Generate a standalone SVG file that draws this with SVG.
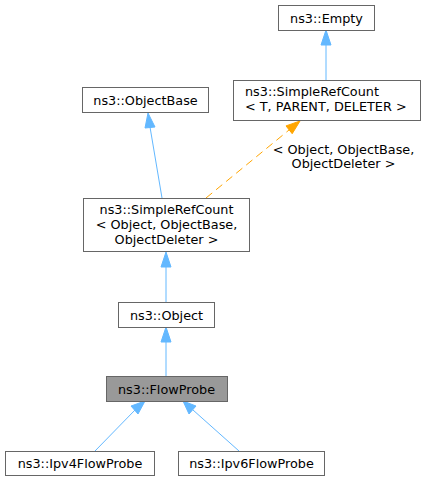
<svg xmlns="http://www.w3.org/2000/svg" width="425" height="481" viewBox="0 0 425 481">
<style>
.box{fill:#fff;stroke:#666;stroke-width:1}
.cur{fill:#999;stroke:#666;stroke-width:1}
text{font-family:"DejaVu Sans",sans-serif;font-size:12.8px;fill:#000}
.m{text-anchor:middle}
.e{fill:none;stroke:#63b8ff;stroke-width:1}
.ah{fill:#63b8ff;stroke:#63b8ff}
.d{fill:none;stroke:#ffa500;stroke-dasharray:8,5}
.ao{fill:#ffa500;stroke:#ffa500}
</style>
<rect width="425" height="481" fill="#fff"/>
<g id="connectors">
<path class="e" d="M326,45 V80"/>
<polygon class="ah" points="321,45 326,30 331,45"/>
<path class="e" d="M150,127 L162,198"/>
<polygon class="ah" points="145,128 148,113 155,127"/>
<path class="d" d="M206,198 L289,130"/>
<polygon class="ao" points="286,125.9 300,121 292.2,133.7"/>
<text class="m" x="343.5" y="154">&lt; Object, ObjectBase,</text>
<text class="m" x="343.5" y="168">ObjectDeleter &gt;</text>
<path class="e" d="M166,267 V302"/>
<polygon class="ah" points="161,267 166,252 171,267"/>
<path class="e" d="M166,342 V376"/>
<polygon class="ah" points="161,342 166,327 171,342"/>
<path class="e" d="M95,451 L135,410"/>
<polygon class="ah" points="131,406 145,401 138,414"/>
<path class="e" d="M239,451 L193,410"/>
<polygon class="ah" points="189,414 183,401 196,406"/>
</g>
<g id="Empty">
<rect class="box" x="278.5" y="5.5" width="96" height="25"/>
<text class="m" x="326.5" y="22.5">ns3::Empty</text>
</g>
<g id="SimpleRefCountT">
<rect class="box" x="233.5" y="80.5" width="187" height="40"/>
<text x="245" y="96">ns3::SimpleRefCount</text>
<text x="245" y="111">&lt; T, PARENT, DELETER &gt;</text>
</g>
<g id="ObjectBase">
<rect class="box" x="82.5" y="87.5" width="126" height="25"/>
<text class="m" x="145.5" y="104.5">ns3::ObjectBase</text>
</g>
<g id="SimpleRefCountObject">
<rect class="box" x="83.5" y="198.5" width="166" height="53"/>
<text class="m" x="166.5" y="214">ns3::SimpleRefCount</text>
<text class="m" x="166.5" y="229">&lt; Object, ObjectBase,</text>
<text class="m" x="166.5" y="244">ObjectDeleter &gt;</text>
</g>
<g id="Object">
<rect class="box" x="118.5" y="302.5" width="96" height="25"/>
<text class="m" x="166.5" y="319.5">ns3::Object</text>
</g>
<g id="FlowProbe">
<rect class="cur" x="106.5" y="376.5" width="121" height="25"/>
<text class="m" x="166.5" y="393.5">ns3::FlowProbe</text>
</g>
<g id="Ipv4FlowProbe">
<rect class="box" x="5.5" y="451.5" width="149" height="24"/>
<text class="m" x="80" y="468">ns3::Ipv4FlowProbe</text>
</g>
<g id="Ipv6FlowProbe">
<rect class="box" x="178.5" y="451.5" width="146" height="24"/>
<text class="m" x="251.5" y="468">ns3::Ipv6FlowProbe</text>
</g>
</svg>
